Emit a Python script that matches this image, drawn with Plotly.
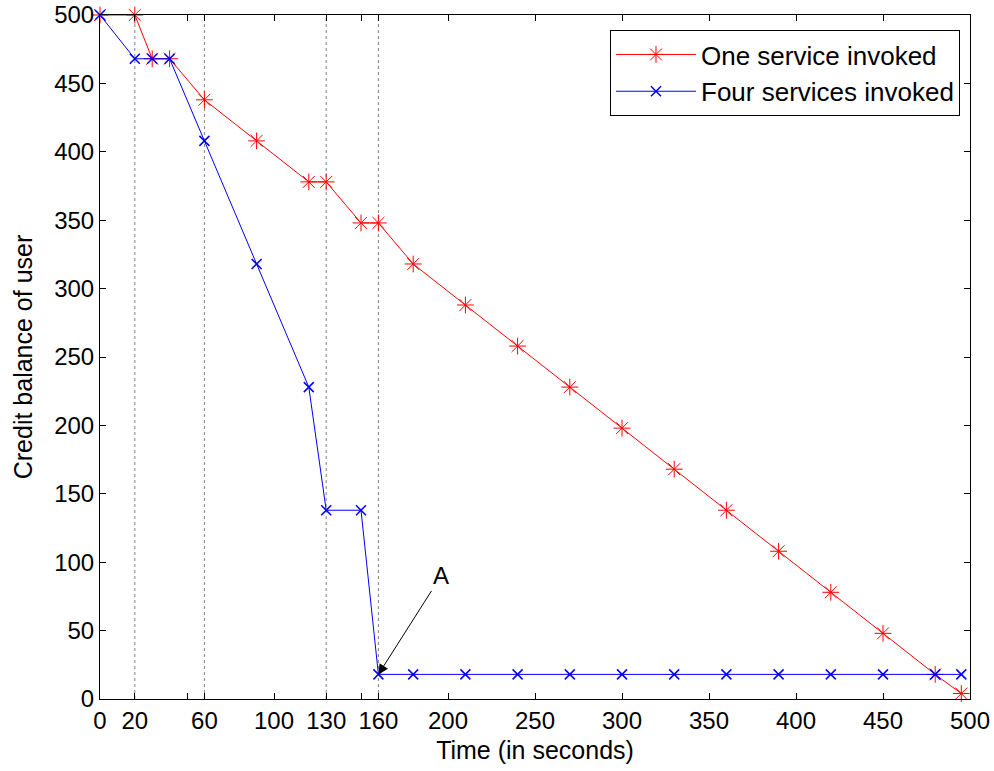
import plotly.graph_objects as go

time_one = [0, 20, 30, 40, 60, 90, 120, 130, 150, 160, 180, 210, 240, 270, 300, 330, 360, 390, 420, 450, 480, 495]
credit_one = [500, 500, 468, 468, 438, 408, 378, 378, 348, 348, 318, 288, 258, 228, 198, 168, 138, 108, 78, 48, 18, 4]

time_four = [0, 20, 30, 40, 60, 90, 120, 130, 150, 160, 180, 210, 240, 270, 300, 330, 360, 390, 420, 450, 480, 495]
credit_four = [500, 468, 468, 468, 408, 318, 228, 138, 138, 18, 18, 18, 18, 18, 18, 18, 18, 18, 18, 18, 18, 18]

guide_times = [20, 60, 130, 160]
x_tickvals = [0, 20, 50, 60, 100, 130, 150, 160, 200, 250, 300, 350, 400, 450, 500]
x_ticktext = ["0", "20", "", "60", "100", "130", "", "160", "200", "250", "300", "350", "400", "450", "500"]
y_tickvals = [0, 50, 100, 150, 200, 250, 300, 350, 400, 450, 500]

annot_point = (160, 18)
annot_text_pos = (196, 90)

font_family = "Liberation Sans, Arial, sans-serif"

fig = go.Figure()

for gx in guide_times:
    fig.add_shape(type="line", xref="x", yref="paper", x0=gx, x1=gx, y0=0, y1=1,
                  line=dict(color="#808080", width=1, dash="dot"), layer="below")

fig.add_trace(go.Scatter(
    x=time_one, y=credit_one, mode="lines+markers", name="One service invoked",
    line=dict(color="#ff0000", width=1), cliponaxis=False,
    marker=dict(symbol="asterisk-open", size=14, color="#ff0000", line=dict(color="#ff0000", width=1)),
))
fig.add_trace(go.Scatter(
    x=time_four, y=credit_four, mode="lines+markers", name="Four services invoked",
    line=dict(color="#0000ff", width=1), cliponaxis=False,
    marker=dict(symbol="x-thin-open", size=10, color="#0000ff", line=dict(color="#0000ff", width=1.5)),
))

fig.add_annotation(
    x=annot_point[0], y=annot_point[1], xref="x", yref="y",
    ax=annot_text_pos[0], ay=annot_text_pos[1], axref="x", ayref="y",
    text="A", showarrow=True, arrowhead=2, arrowsize=2, arrowwidth=1, arrowcolor="black",
    font=dict(size=24, color="black", family=font_family),
)

fig.update_layout(
    width=994, height=771,
    margin=dict(l=100, r=24, t=15, b=72),
    paper_bgcolor="white", plot_bgcolor="white",
    font=dict(family=font_family, size=24, color="black"),
    showlegend=True,
    legend=dict(
        x=0.9885, y=0.978, xanchor="right", yanchor="top",
        bgcolor="white", bordercolor="black", borderwidth=1,
        font=dict(size=26, family=font_family), itemwidth=80,
        tracegroupgap=0,
    ),
)

fig.update_xaxes(
    range=[0, 500], tickmode="array", tickvals=x_tickvals, ticktext=x_ticktext,
    ticks="inside", ticklen=6, tickcolor="black", showline=True, linecolor="black", linewidth=1,
    mirror="ticks", showgrid=False, zeroline=False, automargin=False, ticklabeloverflow="allow",
    title=dict(text="Time (in seconds)", standoff=8, font=dict(size=25)),
    tickfont=dict(size=24),
)
fig.update_yaxes(
    range=[0, 500], tickmode="array", tickvals=y_tickvals,
    ticks="inside", ticklen=6, tickcolor="black", showline=True, linecolor="black", linewidth=1,
    mirror="ticks", showgrid=False, zeroline=False, automargin=False, ticklabeloverflow="allow",
    title=dict(text="Credit balance of user", standoff=14, font=dict(size=25)),
    tickfont=dict(size=24),
)

fig.write_html("out.html", config={"displayModeBar": False},
               post_script="document.body.style.margin='0px';")
